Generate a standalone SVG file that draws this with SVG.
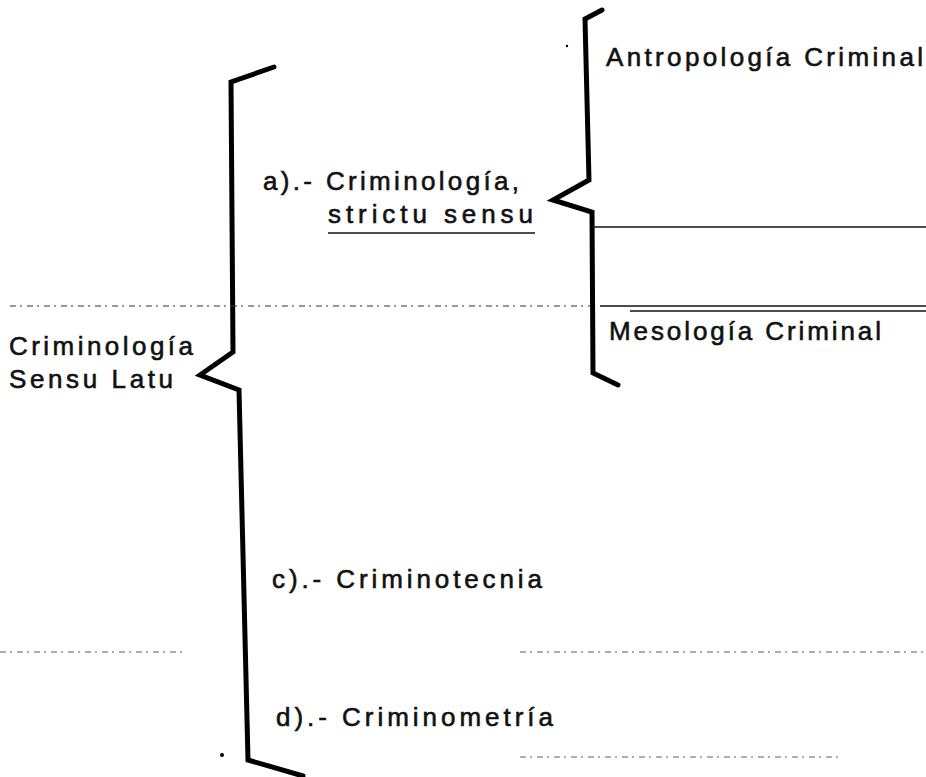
<svg xmlns="http://www.w3.org/2000/svg" width="926" height="777" viewBox="0 0 926 777">
<style>
.t{font-family:"Liberation Sans","Open Sans",sans-serif;font-size:26px;fill:#111;stroke:#111;stroke-width:0.6}
.brace{fill:none;stroke:#000;stroke-width:5;stroke-linejoin:miter;stroke-linecap:round}
.rule{stroke:#111;stroke-width:1.5;fill:none}
.scan{stroke:#333;stroke-width:1.2;fill:none;stroke-dasharray:6 4 2 5}
</style>
<rect width="926" height="777" fill="#fff"/>
<g id="connectors">
<path class="brace" d="M274,67 L231,82 L233,352 L200,375 L239,390 L248,760 L303,776"/>
<path class="brace" d="M602,10 L585,19 L589,180 L553,200 L592,212 L593,373 L618,385"/>
<line class="rule" x1="592" y1="227" x2="926" y2="227"/>
<line class="scan" x1="10" y1="306" x2="590" y2="306"/>
<line class="rule" x1="600" y1="306" x2="926" y2="306"/>
<line class="rule" x1="630" y1="311" x2="926" y2="311"/>
<line class="scan" x1="0" y1="652" x2="185" y2="652" style="stroke-width:0.8"/>
<line class="scan" x1="520" y1="652" x2="926" y2="652" style="stroke-width:0.8"/>
<line class="scan" x1="520" y1="757" x2="840" y2="757" style="stroke-width:0.8"/>
<circle cx="222" cy="755" r="2" fill="#000"/>
<circle cx="567" cy="46" r="1.2" fill="#000"/>
</g>
<g id="root"><text class="t" x="9" y="355" textLength="184" lengthAdjust="spacing">Criminología</text><text class="t" x="9" y="388" textLength="164" lengthAdjust="spacing">Sensu Latu</text></g>
<g id="a"><text class="t" x="263" y="190" textLength="256" lengthAdjust="spacing">a).- Criminología,</text><text class="t" x="328" y="223" textLength="205" lengthAdjust="spacing">strictu sensu</text><line class="rule" x1="328" y1="233" x2="535" y2="233"/></g>
<g id="antropologia"><text class="t" x="606" y="66" textLength="317" lengthAdjust="spacing">Antropología Criminal</text></g>
<g id="mesologia"><text class="t" x="609" y="340" textLength="272" lengthAdjust="spacing">Mesología Criminal</text></g>
<g id="c"><text class="t" x="272" y="588" textLength="270" lengthAdjust="spacing">c).- Criminotecnia</text></g>
<g id="d"><text class="t" x="276" y="726" textLength="277" lengthAdjust="spacing">d).- Criminometría</text></g>
</svg>
